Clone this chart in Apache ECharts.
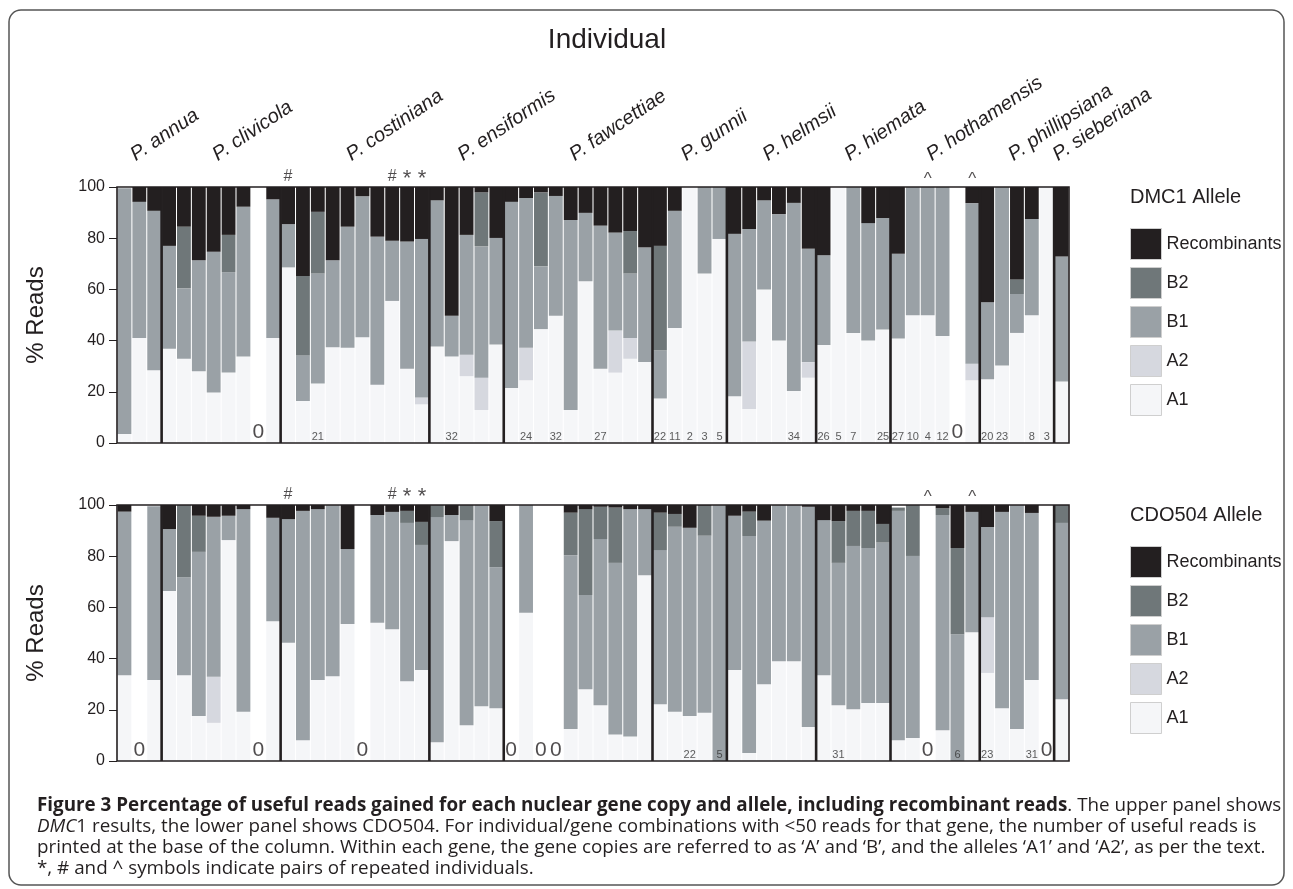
<!DOCTYPE html>
<html><head><meta charset="utf-8">
<script src="https://cdn.jsdelivr.net/npm/echarts@6/dist/echarts.min.js"></script>
<style>html,body{margin:0;padding:0;background:#fff}#c{width:1293px;height:889px}</style>
</head><body><div id="c"></div>
<script>
// ---------- DATA ----------
const species = ['P. annua','P. clivicola','P. costiniana','P. ensiformis','P. fawcettiae','P. gunnii','P. helmsii','P. hiemata','P. hothamensis','P. phillipsiana','P. sieberiana'];
const groupSizes = [3,8,10,5,10,5,6,5,6,5,1];
const individuals = ['1','2','3','4','5','6','7','8','9','10','11','12','13','14','15','16','17','18','19','20','21','22','23','24','25','26','27','28','29','30','31','32','33','34','35','36','37','38','39','40','41','42','43','44','45','46','47','48','49','50','51','52','53','54','55','56','57','58','59','60','61','62','63','64'];
const yTicks = [0,20,40,60,80,100];
const alleleNames = ['A1','A2','B1','B2','Recombinants'];

// DMC1 (upper panel), % reads
const dmc1A1 = [3.5,41,28.4,36.8,32.9,28,19.7,27.5,33.8,0, 41,68.6,16.4,23.2,37.4,37.2,41.3,22.8,55.5,29, 15.1,37.7,33.8,26.1,12.9,38.5,21.5,24.5,44.5,49.7, 12.9,63.2,29,27.5,32.9,31.6,17.4,44.9,100,66.2, 79.7,18.3,13.3,60,40,20.3,25.5,38.3,100,43, 40,44.3,40.8,49.9,49.9,41.8,0,24.5,24.9,30.3, 43,49.9,100,24];
const dmc1A2 = [0,0,0,0,0,0,0,0,0,0, 0,0,0,0,0,0,0,0,0,0, 2.7,0,0,8.4,12.6,0,0,12.7,0,0, 0,0,0,16.4,8.1,0,0,0,0,0, 0,0,26.3,0,0,0,6.1,0,0,0, 0,0,0,0,0,0,0,6.5,0,0, 0,0,0,0];
const dmc1B1 = [96,53.2,62.3,40.2,27.5,43.4,55,39.2,58.5,0, 54.2,16.9,17.8,43,34,47.3,55.1,57.8,23.5,49.7, 61.9,57.1,15.9,46.8,51.3,41.6,72.7,58.5,24.5,46.8, 74.2,26.7,55.9,38.3,25.2,44.8,18.7,45.8,0,33.8, 20.3,63.4,44,34.8,49.4,73.5,44.3,35,0,57, 45.9,43.6,33.1,50.1,50.1,58.2,0,62.7,30.1,69.7, 15.2,37.6,0,48.9];
const dmc1B2 = [0,0,0,0,24.1,0,0,14.6,0,0, 0,0,31,24.1,0,0,0,0,0,0, 0,0,0,0,21.1,0,0,0,28.9,0, 0,0,0,0,16.6,0,40.9,0,0,0, 0,0,0,0,0,0,0,0,0,0, 0,0,0,0,0,0,0,0,0,0, 5.7,0,0,0];
const dmc1Rec = [0,5.8,9.3,23,15.5,28.6,25.3,18.7,7.7,0, 4.8,14.5,34.8,9.7,28.6,15.5,3.6,19.4,21,21.3, 20.3,5.2,50.3,18.7,2.1,19.9,5.8,4.3,2.1,3.5, 12.9,10.1,15.1,17.8,17.2,23.6,23,9.3,0,0, 0,18.3,16.4,5.2,10.6,6.2,24.1,26.7,0,0, 14.1,12.1,26.1,0,0,0,0,6.3,45,0, 36.1,12.5,0,27.1];
const dmc1Counts = ['','','','','','','','','','0', '','','','21','','','','','','', '','','32','','','','','24','','32', '','','27','','','','22','11','2','3', '5','','','','','34','','26','5','7', '','25','27','10','4','12','0','','20','23', '','8','3',''];

// CDO504 (lower panel), % reads
const cdoA1 = [33.5,0,31.6,66.4,33.5,17.6,14.9,86.3,19.2,0, 54.6,46.2,8.1,31.6,33.1,53.5,0,54,51.5,31.2, 35.5,7.3,85.9,14,21.4,20.6,0,57.9,0,0, 12.5,28,21.8,10.4,9.6,72.6,22.2,19.2,17.6,18.8, 0,35.5,3.1,30,39,39,13.3,33.5,21.8,20.2, 22.7,22.7,8.1,9,0,12,0,50.3,34.4,20.6, 12.5,31.6,0,24.1];
const cdoA2 = [0,0,0,0,0,0,18,0,0,0, 0,0,0,0,0,0,0,0,0,0, 0,0,0,0,0,0,0,0,0,0, 0,0,0,0,0,0,0,0,0,0, 0,0,0,0,0,0,0,0,0,0, 0,0,0,0,0,0,0,0,21.8,0, 0,0,0,0];
const cdoB1 = [63.9,0,67.9,24.2,38.3,64.1,62.5,9.5,79.2,0, 40.4,48.3,89.6,66.8,66.9,29.3,0,42.1,45.8,61.8, 48.9,88,10.2,80.1,78.6,55.1,0,42.1,0,0, 67.9,36.8,64.9,67,88.8,25.8,60.2,72.3,73.5,69.2, 100,60.3,84.8,63.9,61,61,86,60.6,55.6,63.8, 60.5,62.6,89.6,71.1,0,84.1,49.5,47,35.2,76.7, 87.5,65.3,0,68.9];
const cdoB2 = [0,0,0,0,28.2,14.1,0,0,0,0, 0,0,0,0,0,0,0,0,0,4.7, 9,4.7,0,5.9,0,18,0,0,0,0, 16.6,33.6,12.6,21.6,0,0,14.6,5,0,11.7, 0,0,9.5,0,0,0,0,0,16.3,13.7, 14.5,7.3,1.3,19.9,0,2.6,33.7,0,0,0, 0,0,0,7];
const cdoRec = [2.6,0,0,9.4,0,4.2,4.6,4.2,1.6,0, 5,5.5,2.3,1.6,0,17.2,0,3.9,2.7,2.3, 6.6,0,3.9,0,0,6.3,0,0,0,0, 3,1.6,0.7,1,1.6,1.6,3,3.5,8.9,0.3, 0,4.2,2.6,6.1,0,0,0.7,5.9,6.3,2.3, 2.3,7.4,0,0,0,1.3,16.8,2.7,8.6,2.7, 0,3.1,0,0];
const cdoCounts = ['','0','','','','','','','','0', '','','','','','','0','','','', '','','','','','','0','','0','0', '','','','','','','','','22','', '5','','','','','','','','31','', '','','','','0','','6','','23','', '','31','0',''];

// repeated-individual symbols (same in both panels)
const repeatMarks = ['','','','','','','','','','', '','#','','','','','','','#','*', '*','','','','','','','','','', '','','','','','','','','','', '','','','','','','','','','', '','','','','^','','','^','','', '','','',''];

// ---------- STYLE ----------
const colors = {A1:'#f5f6f8', A2:'#d6d8df', B1:'#9aa1a6', B2:'#6f7779', Recombinants:'#231f20'};
const FONT = 'Liberation Sans';
const INK = '#231f20';

// group boundaries / centers on a 0..64 value scale
const bounds = []; const centers = [];
groupSizes.reduce((acc, n) => { centers.push(acc + n/2); if (acc + n < individuals.length) bounds.push(acc + n); return acc + n; }, 0);

const panelData = [
  {A1:dmc1A1, A2:dmc1A2, B1:dmc1B1, B2:dmc1B2, Recombinants:dmc1Rec, counts:dmc1Counts},
  {A1:cdoA1, A2:cdoA2, B1:cdoB1, B2:cdoB2, Recombinants:cdoRec, counts:cdoCounts}
];

const grids = [
  {left:117, top:187, width:952, height:256, show:false},
  {left:117, top:505, width:952, height:256, show:false}
];

const markFont = {'#':{fontSize:16, offset:[0,0]}, '*':{fontSize:22, offset:[0,5]}, '^':{fontSize:17, offset:[0,3]}};

const xAxes = [], yAxes = [], series = [];
[0,1].forEach(p => {
  xAxes.push({gridIndex:p, type:'category', data:individuals, boundaryGap:true,
    axisLine:{show:false}, axisTick:{show:false}, axisLabel:{show:false}, splitLine:{show:false}});
  xAxes.push({gridIndex:p, type:'value', min:0, max:individuals.length, show:false});
  yAxes.push({gridIndex:p, type:'value', min:0, max:100, interval:20,
    axisLine:{show:false}, splitLine:{show:false},
    axisTick:{show:true, length:8, lineStyle:{color:INK, width:1}},
    axisLabel:{fontSize:16, color:INK, fontFamily:FONT, margin:12}});
  alleleNames.forEach(nm => {
    series.push({type:'bar', name:nm, stack:'panel'+p, xAxisIndex:p*2, yAxisIndex:p,
      data:panelData[p][nm], barCategoryGap:'7%', silent:true,
      itemStyle:{color:colors[nm]}, emphasis:{disabled:true}});
  });
  // frame + group separators
  series.push({type:'custom', xAxisIndex:p*2+1, yAxisIndex:p, silent:true, z:4, clip:false,
    data:[[0]],
    renderItem:(params, api) => {
      const a = api.coord([0,100]), b = api.coord([individuals.length,0]);
      return {type:'rect', shape:{x:a[0], y:a[1], width:b[0]-a[0], height:b[1]-a[1]},
        style:{fill:null, stroke:INK, lineWidth:1.6}};
    }});
  series.push({type:'custom', xAxisIndex:p*2+1, yAxisIndex:p, silent:true, z:4, clip:false,
    data:bounds.map(v => [v]),
    renderItem:(params, api) => {
      const a = api.coord([api.value(0),100]), b = api.coord([api.value(0),0]);
      return {type:'line', shape:{x1:a[0], y1:a[1], x2:b[0], y2:b[1]},
        style:{stroke:INK, lineWidth:2.6}};
    }});
  // read-count labels at the column base
  series.push({type:'scatter', xAxisIndex:p*2, yAxisIndex:p, silent:true, z:6, clip:false,
    symbolSize:1, itemStyle:{color:'rgba(0,0,0,0)'},
    data:panelData[p].counts.map((t,i) => t ? [i, 0, t] : null).filter(Boolean),
    label:{show:true, position:'top', distance:0, fontFamily:FONT,
      formatter: q => q.data[2] === '0' ? '{big|0}' : '{small|' + q.data[2] + '}',
      rich:{big:{fontSize:21, color:INK, fontFamily:FONT}, small:{fontSize:11, color:'#333', fontFamily:FONT}}}});
  // repeated-individual symbols above columns
  series.push({type:'scatter', xAxisIndex:p*2, yAxisIndex:p, silent:true, z:6, clip:false,
    symbolSize:1, itemStyle:{color:'rgba(0,0,0,0)'},
    data:repeatMarks.map((t,i) => t ? {value:[i, 100, t],
      label:{fontSize:markFont[t].fontSize, offset:markFont[t].offset}} : null).filter(Boolean),
    label:{show:true, position:'top', distance:2, fontFamily:FONT, color:INK,
      formatter: q => q.data.value[2]}});
});

// species labels (upper panel)
series.push({type:'custom', xAxisIndex:1, yAxisIndex:0, silent:true, z:6, clip:false,
  data:centers.map((c,i) => [c, i]),
  renderItem:(params, api) => {
    const pt = api.coord([api.value(0), 100]);
    return {type:'text', x:pt[0]-1, y:pt[1]-22, rotation:34*Math.PI/180,
      style:{text:species[api.value(1)], font:'italic 20px "Liberation Sans"', fill:INK, align:'left', verticalAlign:'bottom'}};
  }});

const legendOrder = ['Recombinants','B2','B1','A2','A1'];
const legendBase = {data:legendOrder, orient:'vertical', left:1130, itemWidth:31, itemHeight:31, itemGap:7,
  icon:'rect', selectedMode:false, padding:0, itemStyle:{borderColor:'#cfcfcf', borderWidth:1},
  textStyle:{fontSize:18, color:INK, fontFamily:FONT}};

// caption lines
const capLines = [
  '{b|Figure 3 Percentage of useful reads gained for each nuclear gene copy and allele, including recombinant reads}. The upper panel shows',
  '{i|DMC}1 results, the lower panel shows CDO504. For individual/gene combinations with <50 reads for that gene, the number of useful reads is',
  'printed at the base of the column. Within each gene, the gene copies are referred to as \u2018A\u2019 and \u2018B\u2019, and the alleles \u2018A1\u2019 and \u2018A2\u2019, as per the text.',
  '*, # and ^ symbols indicate pairs of repeated individuals.'
];
const probe = document.createElement('span');
probe.style.cssText = 'position:absolute;left:0;top:0;visibility:hidden;white-space:pre;font-family:"Open Sans";font-size:100px;';
probe.textContent = capLines[2];
document.body.appendChild(probe);
const probeW = probe.getBoundingClientRect().width;
document.body.removeChild(probe);
const capSize = probeW > 0 ? Math.max(13, Math.min(20, 100 * 1229 / probeW)) : 17;

const graphics = [
  {type:'rect', shape:{x:9, y:10, width:1275, height:875, r:12}, style:{fill:null, stroke:'#555', lineWidth:1.5}, silent:true},
  {type:'text', x:607, y:40, style:{text:'Individual', font:'28px "Liberation Sans"', fill:INK, align:'center', verticalAlign:'middle'}},
  {type:'text', x:1130, y:197, style:{text:'DMC1 Allele', font:'20px "Liberation Sans"', fill:INK, align:'left', verticalAlign:'middle'}},
  {type:'text', x:1130, y:515, style:{text:'CDO504 Allele', font:'20px "Liberation Sans"', fill:INK, align:'left', verticalAlign:'middle'}},
  {type:'text', x:36, y:315, rotation:Math.PI/2, style:{text:'% Reads', font:'24px "Liberation Sans"', fill:INK, align:'center', verticalAlign:'middle'}},
  {type:'text', x:36, y:633, rotation:Math.PI/2, style:{text:'% Reads', font:'24px "Liberation Sans"', fill:INK, align:'center', verticalAlign:'middle'}}
];
capLines.forEach((t, k) => {
  graphics.push({type:'text', x:37, y:806 + k*21, silent:true,
    style:{text:t, font: capSize + 'px "Open Sans"', fill:INK, align:'left', verticalAlign:'middle',
      rich:{b:{fontWeight:'bold', fontFamily:'Open Sans', fontSize:capSize, fill:INK},
            i:{fontStyle:'italic', fontFamily:'Open Sans', fontSize:capSize, fill:INK}}}});
});

const chart = echarts.init(document.getElementById('c'));
chart.setOption({
  animation:false,
  backgroundColor:'#ffffff',
  grid:grids,
  xAxis:xAxes,
  yAxis:yAxes,
  legend:[Object.assign({top:228}, legendBase), Object.assign({top:546}, legendBase)],
  series:series,
  graphic:graphics
});
</script></body></html>
